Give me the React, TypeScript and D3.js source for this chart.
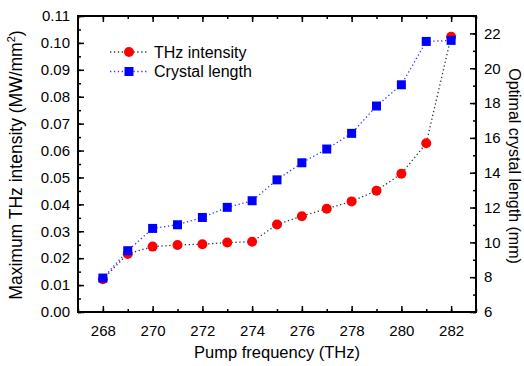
import { useEffect, useRef } from "react";
import * as d3 from "d3";

const frequencies = [268, 269, 270, 271, 272, 273, 274, 275, 276, 277, 278, 279, 280, 281, 282];
const intensity = [0.0122, 0.0216, 0.0243, 0.0249, 0.0252, 0.0258, 0.0261, 0.0325, 0.0356, 0.0384, 0.0411, 0.0451, 0.0514, 0.0627, 0.1023];
const crystalLength = [7.95, 9.52, 10.8, 11.01, 11.43, 12.01, 12.39, 13.59, 14.57, 15.36, 16.26, 17.83, 19.05, 21.54, 21.6];
const xTicks = [268, 270, 272, 274, 276, 278, 280, 282];
const leftTicks = [0, 0.01, 0.02, 0.03, 0.04, 0.05, 0.06, 0.07, 0.08, 0.09, 0.1, 0.11];
const rightTicks = [6, 8, 10, 12, 14, 16, 18, 20, 22];

export default function App() {
    const svgRef = useRef<SVGSVGElement>(null);

    useEffect(() => {
        if (!svgRef.current) return;
        const root = d3.select(svgRef.current);
        root.selectAll("*").remove();

        const W = 524;
        const H = 366;
        const margin = { top: 16, right: 48, bottom: 54, left: 78 };
        const width = W - margin.left - margin.right;
        const height = H - margin.top - margin.bottom;
        const font = "Arial, 'Liberation Sans', sans-serif";

        const svg = root
            .attr("width", W)
            .attr("height", H)
            .style("font-family", font)
            .append("g")
            .attr("transform", `translate(${margin.left},${margin.top})`);

        const x = d3.scaleLinear().domain([267, 283]).range([0, width]);
        const yL = d3.scaleLinear().domain([0, 0.11]).range([height, 0]);
        const yR = d3.scaleLinear().domain([6, 23]).range([height, 0]);

        const styleAxis = (g: any) => {
            g.select(".domain").remove();
            g.selectAll("line").attr("stroke", "#000").attr("stroke-width", 1.5);
            g.selectAll("text").attr("font-size", 15).attr("font-family", font).attr("fill", "#000");
        };

        const xMinor = d3.range(267, 284, 1);
        const lMinor = d3.range(0, 0.1101, 0.005);
        const rMinor = d3.range(6, 23.01, 1);

        // bottom axis
        svg.append("g").attr("transform", `translate(0,${height})`)
            .call(d3.axisBottom(x).tickValues(xMinor).tickSize(-3).tickFormat(() => ""))
            .call(styleAxis);
        svg.append("g").attr("transform", `translate(0,${height})`)
            .call(d3.axisBottom(x).tickValues(xTicks).tickSize(-6).tickPadding(13).tickFormat(d3.format("d")))
            .call(styleAxis);
        // top axis
        svg.append("g")
            .call(d3.axisTop(x).tickValues(xMinor).tickSize(-3).tickFormat(() => ""))
            .call(styleAxis);
        svg.append("g")
            .call(d3.axisTop(x).tickValues(xTicks).tickSize(-6).tickFormat(() => ""))
            .call(styleAxis);
        // left axis
        svg.append("g")
            .call(d3.axisLeft(yL).tickValues(lMinor).tickSize(-3).tickFormat(() => ""))
            .call(styleAxis);
        svg.append("g")
            .call(d3.axisLeft(yL).tickValues(leftTicks).tickSize(-6).tickPadding(8).tickFormat(d3.format(".2f")))
            .call(styleAxis);
        // right axis
        svg.append("g").attr("transform", `translate(${width},0)`)
            .call(d3.axisRight(yR).tickValues(rMinor).tickSize(-3).tickFormat(() => ""))
            .call(styleAxis);
        svg.append("g").attr("transform", `translate(${width},0)`)
            .call(d3.axisRight(yR).tickValues(rightTicks).tickSize(-6).tickPadding(8).tickFormat(d3.format("d")))
            .call(styleAxis);

        // frame
        svg.append("rect")
            .attr("width", width)
            .attr("height", height)
            .attr("fill", "none")
            .attr("stroke", "#000")
            .attr("stroke-width", 2);

        // lines
        const lineL = d3.line<number>().x((_, i) => x(frequencies[i])).y((d) => yL(d));
        const lineR = d3.line<number>().x((_, i) => x(frequencies[i])).y((d) => yR(d));

        svg.append("path")
            .attr("d", lineL(intensity))
            .attr("fill", "none")
            .attr("stroke", "#333")
            .attr("stroke-width", 1.3)
            .attr("stroke-dasharray", "1.3,2.6");
        svg.append("path")
            .attr("d", lineR(crystalLength))
            .attr("fill", "none")
            .attr("stroke", "#3333ff")
            .attr("stroke-width", 1.3)
            .attr("stroke-dasharray", "1.3,2.6");

        svg.selectAll(".dotL")
            .data(intensity)
            .enter()
            .append("circle")
            .attr("cx", (_, i) => x(frequencies[i]))
            .attr("cy", (d) => yL(d))
            .attr("r", 5)
            .attr("fill", "#ff0000");

        svg.selectAll(".sqR")
            .data(crystalLength)
            .enter()
            .append("rect")
            .attr("x", (_, i) => x(frequencies[i]) - 4.5)
            .attr("y", (d) => yR(d) - 4.5)
            .attr("width", 9)
            .attr("height", 9)
            .attr("fill", "#0000ff");

        // legend
        const legend = svg.append("g").attr("transform", `translate(32, 36)`);
        const items = [
            { label: "THz intensity", line: "#333", color: "#ff0000", shape: "circle" },
            { label: "Crystal length", line: "#3333ff", color: "#0000ff", shape: "square" },
        ];
        items.forEach((item, i) => {
            const row = legend.append("g").attr("transform", `translate(0, ${i * 19.5})`);
            row.append("line")
                .attr("x1", 0)
                .attr("x2", 39)
                .attr("stroke", item.line)
                .attr("stroke-width", 1.3)
                .attr("stroke-dasharray", "1.3,2.6");
            if (item.shape === "circle") {
                row.append("circle").attr("cx", 19).attr("cy", 0).attr("r", 5).attr("fill", item.color);
            } else {
                row.append("rect").attr("x", 14.5).attr("y", -4.5).attr("width", 9).attr("height", 9).attr("fill", item.color);
            }
            row.append("text")
                .attr("x", 44)
                .attr("y", 0)
                .attr("dy", "0.35em")
                .attr("font-size", 16)
                .text(item.label);
        });

        // axis titles
        svg.append("text")
            .attr("x", width / 2)
            .attr("y", height + 46)
            .attr("text-anchor", "middle")
            .attr("font-size", 16.5)
            .text("Pump frequency (THz)");

        const lt = svg.append("text")
            .attr("transform", `translate(-56, ${height / 2 + 1}) rotate(-90)`)
            .attr("text-anchor", "middle")
            .attr("font-size", 17.5);
        lt.append("tspan").text("Maximum THz intensity (MW/mm");
        lt.append("tspan").attr("font-size", 11).attr("dy", -7).text("2");
        lt.append("tspan").attr("dy", 7).text(")");

        svg.append("text")
            .attr("transform", `translate(${width + 33}, ${height / 2 + 2}) rotate(90)`)
            .attr("text-anchor", "middle")
            .attr("font-size", 16)
            .text("Optimal crystal length (mm)");
    }, []);

    return (
        <div style={{ position: "absolute", left: 0, top: 0 }}>
            <svg ref={svgRef} style={{ display: "block" }} />
        </div>
    );
}
